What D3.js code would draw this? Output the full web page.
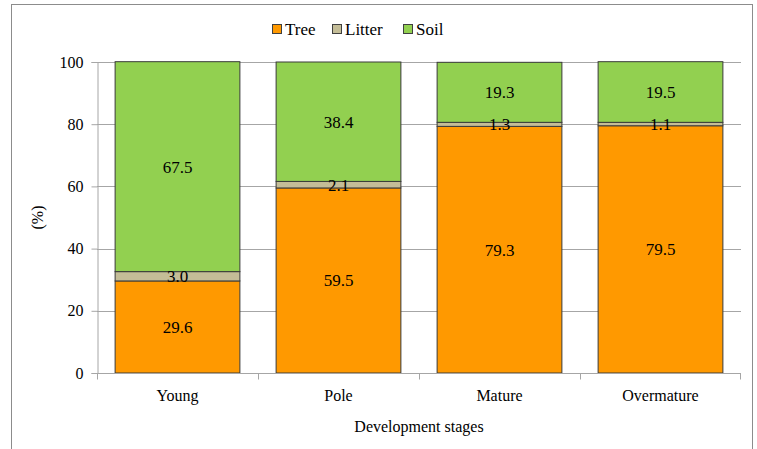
<!DOCTYPE html>
<meta charset="utf-8">
<style>
  body { margin: 0; background: #fff; }
  svg text { font-family: "Liberation Serif", "Times New Roman", "DejaVu Serif", serif; fill: #000; }
</style>
<svg id="chart" width="757" height="449"></svg>
<script src="https://d3js.org/d3.v7.min.js"></script>
<script>
// data
const stages = ["Young", "Pole", "Mature", "Overmature"];
const series = ["Tree", "Litter", "Soil"];
const tree = [29.6, 59.5, 79.3, 79.5];
const litter = [3.0, 2.1, 1.3, 1.1];
const soil = [67.5, 38.4, 19.3, 19.5];
const yTicks = [0, 20, 40, 60, 80, 100];

const colors = { Tree: "#ff9900", Litter: "#c4bd97", Soil: "#92d050" };
const serif = '"Liberation Serif", "Times New Roman", "DejaVu Serif", serif';

const margin = { left: 97, right: 741, top: 62, bottom: 373 };

const svg = d3.select("#chart");

// outer frame
svg.append("rect")
  .attr("x", 11.5).attr("y", 4.5)
  .attr("width", 741).attr("height", 460)
  .attr("fill", "none").attr("stroke", "#8c8c8c").attr("stroke-width", 1);

const rows = stages.map((s, i) => ({ stage: s, Tree: tree[i], Litter: litter[i], Soil: soil[i] }));
const stacked = d3.stack().keys(series)(rows);

const x = d3.scaleBand().domain(stages)
  .range([margin.left, margin.right])
  .paddingInner(0.225).paddingOuter(0.1125);
const xEdge = d3.scaleBand().domain(stages).range([margin.left, margin.right]);
const y = d3.scaleLinear().domain([0, 100]).range([margin.bottom, margin.top]);

// gridlines
svg.append("g").selectAll("line").data(yTicks.filter(d => d > 0)).join("line")
  .attr("x1", margin.left).attr("x2", margin.right)
  .attr("y1", d => Math.round(y(d)) + 0.5).attr("y2", d => Math.round(y(d)) + 0.5)
  .attr("stroke", "#a6a6a6");

// y axis
const yAxis = svg.append("g").attr("transform", `translate(${margin.left + 0.5},0)`)
  .call(d3.axisLeft(y).tickValues(yTicks).tickSize(6).tickPadding(8).tickFormat(d3.format("d")));
yAxis.attr("font-family", serif);
yAxis.selectAll("path, line").attr("stroke", "#a6a6a6");
yAxis.selectAll("text").style("font-size", "16px").style("font-family", serif);

// bars
const layer = svg.append("g").selectAll("g").data(stacked).join("g")
  .attr("fill", d => colors[d.key]);
layer.selectAll("rect").data(d => d).join("rect")
  .attr("x", d => x(d.data.stage))
  .attr("width", x.bandwidth())
  .attr("y", d => y(d[1]))
  .attr("height", d => y(d[0]) - y(d[1]))
  .attr("stroke", "#3a3a3a").attr("stroke-width", 1);

// x axis
const xAxisG = svg.append("g").attr("transform", `translate(0,${margin.bottom + 0.5})`);
xAxisG.append("line").attr("x1", margin.left).attr("x2", margin.right).attr("stroke", "#a6a6a6");
xAxisG.selectAll("line.tk").data(stages.concat(["end"])).join("line").attr("class", "tk")
  .attr("x1", (d, i) => i < stages.length ? Math.round(xEdge(d)) + 0.5 : margin.right - 0.5)
  .attr("x2", (d, i) => i < stages.length ? Math.round(xEdge(d)) + 0.5 : margin.right - 0.5)
  .attr("y1", 0).attr("y2", 6).attr("stroke", "#a6a6a6");
xAxisG.selectAll("text").data(stages).join("text")
  .attr("x", d => x(d) + x.bandwidth() / 2)
  .attr("y", 27)
  .attr("text-anchor", "middle")
  .style("font-size", "16px").style("font-family", serif)
  .text(d => d);

// value labels
stacked.forEach(s => {
  svg.append("g").selectAll("text").data(s).join("text")
    .attr("x", d => x(d.data.stage) + x.bandwidth() / 2)
    .attr("y", d => (y(d[0]) + y(d[1])) / 2 + 6)
    .attr("text-anchor", "middle")
    .style("font-size", "17px").style("font-family", serif)
    .text(d => d.data[s.key].toFixed(1));
});

// axis titles
svg.append("text")
  .attr("x", (margin.left + margin.right) / 2).attr("y", 432)
  .attr("text-anchor", "middle").style("font-size", "16px").style("font-family", serif)
  .text("Development stages");
svg.append("text")
  .attr("transform", `translate(43,${y(50)}) rotate(-90)`)
  .attr("text-anchor", "middle").style("font-size", "16px").style("font-family", serif)
  .text("(%)");

// legend
const legendItems = [{ k: "Tree", w: 60 }, { k: "Litter", w: 71 }, { k: "Soil", w: 40 }];
let lx = 272;
const legend = svg.append("g");
legendItems.forEach(it => {
  const g = legend.append("g").attr("transform", `translate(${lx},29)`);
  g.append("rect").attr("x", 0.5).attr("y", -4.5).attr("width", 9).attr("height", 9)
    .attr("fill", colors[it.k]).attr("stroke", "#404040");
  g.append("text").attr("x", 13).attr("y", 6)
    .style("font-size", "17px").style("font-family", serif).text(it.k);
  lx += it.w;
});
</script>
